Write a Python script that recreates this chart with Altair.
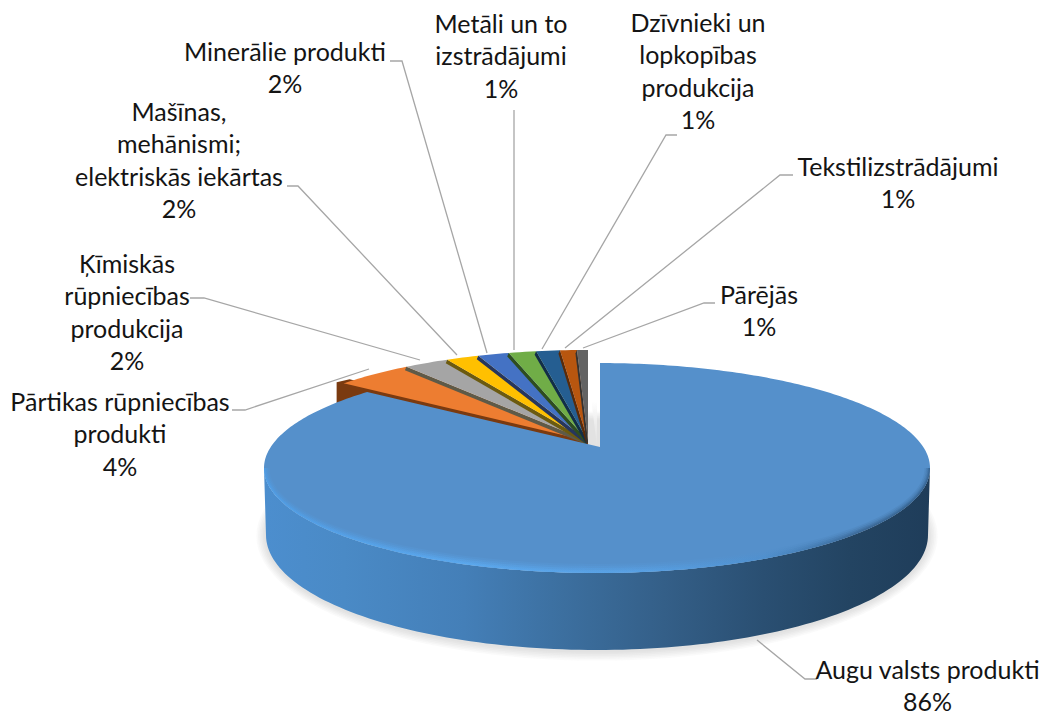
import math
import altair as alt

# ---- data ----
categories = ["Augu valsts produkti", "Pārtikas rūpniecības produkti", "Ķīmiskās rūpniecības produkcija",
              "Mašīnas, mehānismi; elektriskās iekārtas", "Minerālie produkti", "Metāli un to izstrādājumi",
              "Dzīvnieki un lopkopības produkcija", "Tekstilizstrādājumi", "Pārējās"]
shares = [86.0, 4.3, 2.4, 1.7, 1.6, 1.4, 1.2, 0.85, 0.55]
pct_labels = ["86%", "4%", "2%", "2%", "2%", "1%", "1%", "1%", "1%"]

# ---- style / layout ----
colors = ["#5590CB", "#ED7D31", "#A5A5A5", "#FFC000", "#4472C4", "#70AD47", "#255E91", "#B8560F", "#636363"]
darks = ["#2F5F8F", "#7A3A10", "#5E5A48", "#6B5A10", "#26365E", "#2E4D20", "#122E48", "#5A2A08", "#333333"]
label_lines = [
    (["Augu valsts produkti"], 927.5, 671),
    (["Pārtikas rūpniecības", "produkti"], 120, 403),
    (["Ķīmiskās", "rūpniecības", "produkcija"], 127, 265),
    (["Mašīnas,", "mehānismi;", "elektriskās iekārtas"], 179, 113),
    (["Minerālie produkti"], 285, 53),
    (["Metāli un to", "izstrādājumi"], 501, 25),
    (["Dzīvnieki un", "lopkopības", "produkcija"], 698, 24),
    (["Tekstilizstrādājumi"], 898, 168),
    (["Pārējās"], 759, 296),
]
leaders = [
    [(817, 679), (805, 679), (757, 640)],
    [(232, 410), (245, 410), (369, 369)],
    [(190, 298), (204, 298), (420, 360)],
    [(287, 186), (298, 186), (457, 355)],
    [(390, 61), (402, 61), (487, 353)],
    [(514, 110), (514, 350)],
    [(677, 135), (666, 135), (542, 349)],
    [(793, 175), (780, 175), (565, 348)],
    [(715, 303), (704, 303), (583, 348)],
]
A, B, BP = 333.0, 105.0, 95.0
MAIN_C, MAIN_APEX = (597.0, 468.0), (600.0, 447.0)
SMALL_C, SMALL_APEX = (587.0, 455.0), (588.0, 441.0)
BOT_C, BOT_A, BOT_B = (597.0, 535.0), 331.0, 115.0
W, H = 1031, 707
LINE_H = 32.4
FONT, FSIZE = "Lato", 25

proj = dict(type="identity", scale=1, translate=[-8, -8], reflectY=True)


def P(pts):
    return [[float(x), -float(y)] for x, y in pts]


def shape(pts, closed=True, **mark):
    pts = P(pts)
    if closed:
        geo = {"type": "Polygon", "coordinates": [pts + [pts[0]]]}
    else:
        geo = {"type": "LineString", "coordinates": pts}
    feat = {"type": "Feature", "properties": {}, "geometry": geo}
    return alt.Chart(alt.Data(values=[feat])).mark_geoshape(**mark).project(**proj)


def rim(theta, c, apex):
    dx, dy = A * math.sin(theta), -BP * math.cos(theta)
    ox, oy = apex[0] - c[0], apex[1] - c[1]
    qa = (dx / A) ** 2 + (dy / B) ** 2
    qb = 2 * (ox * dx / A ** 2 + oy * dy / B ** 2)
    qc = (ox / A) ** 2 + (oy / B) ** 2 - 1
    t = (-qb + math.sqrt(qb * qb - 4 * qa * qc)) / (2 * qa)
    return (apex[0] + t * dx, apex[1] + t * dy)


def slice_pts(a0, a1, c, apex, shift=(0, 0)):
    n = max(3, int((a1 - a0) * 60))
    pts = [apex] + [rim(a0 + (a1 - a0) * i / n, c, apex) for i in range(n + 1)]
    return [(x + shift[0], y + shift[1]) for x, y in pts]


def ell(c, a, b, t0, t1, n=120):
    return [(c[0] + a * math.cos(t0 + (t1 - t0) * i / n), c[1] + b * math.sin(t0 + (t1 - t0) * i / n))
            for i in range(n + 1)]


def grad(stops, vertical=False):
    return alt.LinearGradient(gradient="linear", x1=0, x2=0 if vertical else 1, y1=0, y2=1 if vertical else 0,
                              stops=[alt.GradientStop(offset=o, color=c) for o, c in stops])


total = sum(shares)
edges = [0.0]
for s in shares:
    edges.append(edges[-1] + s / total * 2 * math.pi)

layers = []

# soft shadow below the disc
for k in range(1, 7):
    layers.append(shape(ell((BOT_C[0], BOT_C[1] + 1), BOT_A + k * 1.6, BOT_B + k * 1.6, 0, 2 * math.pi),
                        fill="#808080", fillOpacity=0.045, strokeWidth=0))

# light shadow next to the last small slice
layers.append(shape(slice_pts(edges[8], edges[9], SMALL_C, SMALL_APEX, (9, 6)),
                    fill=grad([(0.5, "#ffffff"), (0.75, "#ececec"), (1, "#e2e2e2")], vertical=True),
                    strokeWidth=0))

# small slices, left to right: side wall along the left radial edge, then the top
for i in range(1, 9):
    rl = rim(edges[i], SMALL_C, SMALL_APEX)
    if i == 1:
        s_rim, s_apex = (-7, 21), (0, 8)
        layers.append(shape([(rl[0] + 6, rl[1] - 4), SMALL_APEX, (SMALL_APEX[0], SMALL_APEX[1] + s_apex[1]),
                             (rl[0] + s_rim[0], rl[1] + s_rim[1]), (rl[0] + s_rim[0], rl[1] - 1)],
                            fill=darks[i], strokeWidth=0))
    else:
        sh = (-1.5, 3.5)
        layers.append(shape([rl, SMALL_APEX, (SMALL_APEX[0] + sh[0], SMALL_APEX[1] + sh[1]),
                             (rl[0] + sh[0], rl[1] + sh[1])], fill=darks[i], strokeWidth=0))
    layers.append(shape(slice_pts(edges[i], edges[i + 1], SMALL_C, SMALL_APEX),
                        fill=colors[i], strokeWidth=0))

# main slice: wall, top, bevel
wall = ell(MAIN_C, A, B, 0, math.pi) + ell(BOT_C, BOT_A, BOT_B, math.pi, 0)
layers.append(shape(wall, strokeWidth=0, fill=grad([
    (0, "#4C8ECE"), (0.12, "#4A8AC6"), (0.30, "#447FB8"), (0.45, "#3C6F9F"),
    (0.6, "#345F88"), (0.75, "#2A4F72"), (0.88, "#234462"), (1, "#1F3D5A")])))
layers.append(shape(slice_pts(edges[0], edges[1], MAIN_C, MAIN_APEX), fill=colors[0], strokeWidth=0))
outer = ell(MAIN_C, A, B, 0, math.pi)
for da, db, op in [(11, 9, 0.12), (8, 7, 0.18), (5, 5, 0.3), (3, 3, 0.4), (1.5, 1.5, 0.4)]:
    inner = ell(MAIN_C, A - da * 0.5, B - db, math.pi, 0)
    layers.append(shape(outer + inner, strokeWidth=0, fillOpacity=op, fill=grad([
        (0, "#4FA0EA"), (0.3, "#5CADF5"), (0.55, "#5AA5EA"), (0.75, "#4E90CF"),
        (0.9, "#355F8A"), (1, "#2F5A85")])))

# leader lines
for pts in leaders:
    layers.append(shape(pts, closed=False, filled=False, stroke="#A6A6A6", strokeWidth=1.3))

# labels
rows = []
for (lines, cx, y0), pct in zip(label_lines, pct_labels):
    for j, t in enumerate(lines + [pct]):
        rows.append({"t": t, "lon": cx, "lat": -(y0 + j * LINE_H)})
layers.append(alt.Chart(alt.Data(values=rows)).mark_text(
    font=FONT, fontSize=FSIZE, color="#141414", align="center", baseline="middle"
).encode(longitude="lon:Q", latitude="lat:Q", text="t:N").project(**proj))

chart = alt.layer(*layers).properties(
    width=W, height=H, padding=0, autosize=alt.AutoSizeParams(type="none")
).configure_view(stroke=None).configure(background="#ffffff")

chart.save("out.html", embed_options={"renderer": "svg", "actions": False})
